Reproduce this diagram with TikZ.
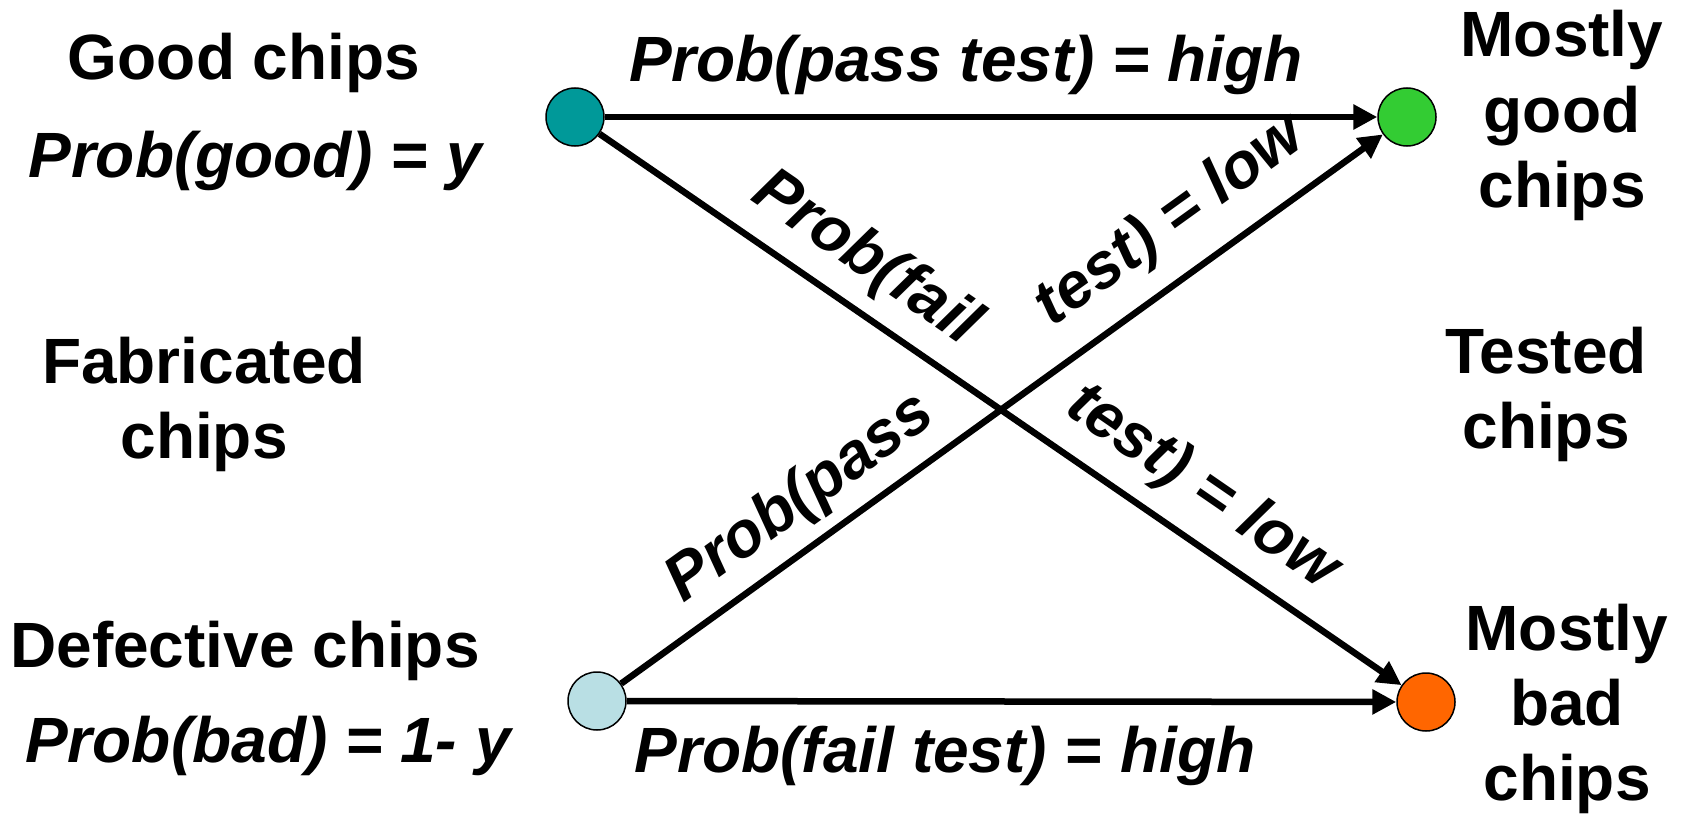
\documentclass[tikz,border=0pt]{standalone}
\usepackage{fontspec}
\setmainfont{Liberation Sans}
\usetikzlibrary{arrows.meta}
\definecolor{tealchip}{RGB}{0,153,153}
\definecolor{greenchip}{RGB}{51,204,51}
\definecolor{bluechip}{RGB}{185,223,228}
\definecolor{orangechip}{RGB}{255,102,0}
\begin{document}
\begin{tikzpicture}[x=1bp,y=-1bp,
  chip/.style={circle,draw=black,line width=1.5bp,minimum size=58bp,inner sep=0pt},
  txt/.style={font=\fontsize{64bp}{75bp}\selectfont\bfseries, inner sep=0pt, align=center, anchor=base},
  itxt/.style={font=\fontsize{64bp}{75bp}\selectfont\bfseries\itshape, inner sep=0pt, anchor=base},
  dtxt/.style={font=\fontsize{64bp}{75bp}\selectfont\bfseries\itshape, inner sep=0pt, anchor=center},
  arr/.style={line width=6.5bp,-{Triangle[length=24bp,width=24bp]}}]
\useasboundingbox (0,0) rectangle (1684,815);
% chips
\node[chip, fill=tealchip]   (good)   at (575,117) {};
\node[chip, fill=greenchip]  (mgood)  at (1407,117) {};
\node[chip, fill=bluechip]   (bad)    at (597,701) {};
\node[chip, fill=orangechip] (mbad)   at (1426,702) {};
% connectors
\draw[arr] (good) -- (mgood);
\draw[arr] (good) -- (mbad);
\draw[arr] (bad) -- (mgood);
\draw[arr] (bad) -- (mbad);
% left texts (multi-line nodes anchored at the baseline of their last line)
\node[txt]  (tgood)  at (244,80)  {Good chips};
\node[itxt] (pgood)  at (255,177) {Prob(good) = y};
\node[txt]  (tfab)   at (204,458) {Fabricated\\chips};
\node[txt]  (tdef)   at (245,667) {Defective chips};
\node[itxt] (pbad)   at (268,762) {Prob(bad) = 1- y};
% right texts
\node[txt]  (tmgood) at (1562,207) {Mostly\\good\\chips};
\node[txt]  (ttest)  at (1546,448) {Tested\\chips};
\node[txt]  (tmbad)  at (1567,800) {Mostly\\bad\\chips};
% edge labels
\node[itxt] (lpass)  at (966,82)  {Prob(pass test) = high};
\node[itxt] (lfail)  at (945,772) {Prob(fail test) = high};
\node[dtxt, rotate=-34.55] (lfa1) at (866,259) {Prob(fail};
\node[dtxt, rotate=-34.55] (lfa2) at (1202,488) {test) = low};
\node[dtxt, rotate=35.74]  (lpa1) at (801,499) {Prob(pass};
\node[dtxt, rotate=35.74]  (lpa2) at (1171,222) {test) = low};
\end{tikzpicture}
\end{document}
